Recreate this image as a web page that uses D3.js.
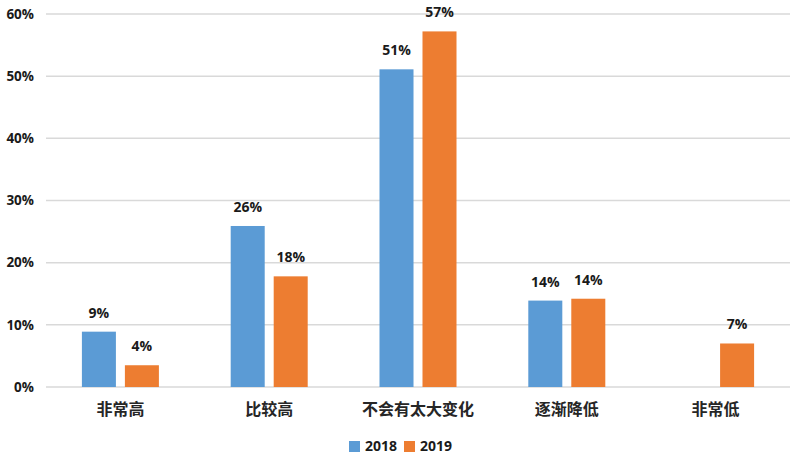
<!DOCTYPE html>
<html><head><meta charset="utf-8">
<script src="https://cdn.jsdelivr.net/npm/d3@7"></script>
<style>body{margin:0;background:#fff;}svg{display:block;}</style>
</head><body>
<svg id="c" width="800" height="460"></svg>
<script>
const categories = ["非常高", "比较高", "不会有太大变化", "逐渐降低", "非常低"];
const seriesNames = ["2018", "2019"];
const values2018 = [8.9, 25.9, 51.1, 13.9, null];
const values2019 = [3.5, 17.8, 57.2, 14.2, 7.0];
const labels2018 = ["9%", "26%", "51%", "14%", null];
const labels2019 = ["4%", "18%", "57%", "14%", "7%"];
const yTicks = [0, 10, 20, 30, 40, 50, 60];
const colors = ["#5b9bd5", "#ed7d31"];

(function () {
const svg = d3.select("#c");
const mLeft = 46, mRight = 790, mTop = 14, mBottom = 387;
const x0 = d3.scaleBand().domain(categories).range([mLeft, mRight]).paddingInner(0).paddingOuter(0);
const y = d3.scaleLinear().domain([0, 60]).range([mBottom, mTop]);
const x1 = d3.scaleBand().domain(seriesNames).range([-38.5, 38.5]).paddingInner(0.209).paddingOuter(0);

// gridlines
svg.append("g").selectAll("line").data(yTicks).join("line")
  .attr("x1", mLeft).attr("x2", mRight)
  .attr("y1", d => y(d)).attr("y2", d => y(d))
  .attr("stroke", "#d9d9d9").attr("stroke-width", 1.5);

// y labels
svg.append("g").selectAll("text").data(yTicks).join("text")
  .attr("x", 34).attr("y", d => y(d)).attr("dy", "0.35em")
  .attr("text-anchor", "end")
  .attr("font-family", "'Open Sans', sans-serif").attr("font-weight", "bold").attr("font-size", 13.5)
  .attr("fill", "#1a1a1a")
  .text(d => d + "%");

const data = [values2018, values2019];
const labs = [labels2018, labels2019];
seriesNames.forEach((s, si) => {
  const rows = categories.map((c, i) => ({c, v: data[si][i], l: labs[si][i]})).filter(d => d.v != null);
  const g = svg.append("g");
  g.selectAll("rect").data(rows).join("rect")
    .attr("x", d => x0(d.c) + x0.bandwidth() / 2 + x1(s))
    .attr("width", x1.bandwidth())
    .attr("y", d => y(d.v))
    .attr("height", d => y(0) - y(d.v))
    .attr("fill", colors[si]);
  g.selectAll("text").data(rows).join("text")
    .attr("x", d => x0(d.c) + x0.bandwidth() / 2 + x1(s) + x1.bandwidth() / 2)
    .attr("y", d => y(d.v) - 14)
    .attr("text-anchor", "middle")
    .attr("font-family", "'Open Sans', sans-serif").attr("font-weight", "bold").attr("font-size", 14)
    .attr("fill", "#1a1a1a")
    .text(d => d.l);
});

// category labels
svg.append("g").selectAll("text").data(categories).join("text")
  .attr("x", d => x0(d) + x0.bandwidth() / 2)
  .attr("y", 409).attr("dy", "0.35em")
  .attr("text-anchor", "middle")
  .attr("font-family", "'Noto Sans CJK SC', sans-serif").attr("font-weight", "bold").attr("font-size", 16)
  .attr("fill", "#262626")
  .text(d => d);

// legend
const legX = [349, 404];
const lg = svg.append("g");
seriesNames.forEach((s, si) => {
  lg.append("rect").attr("x", legX[si]).attr("y", 441).attr("width", 11).attr("height", 11).attr("fill", colors[si]);
  lg.append("text").attr("x", legX[si] + 16).attr("y", 446.5).attr("dy", "0.35em")
    .attr("font-family", "'Open Sans', sans-serif").attr("font-weight", "bold").attr("font-size", 14)
    .attr("fill", "#1a1a1a").text(s);
});
})();
</script>
</body></html>
